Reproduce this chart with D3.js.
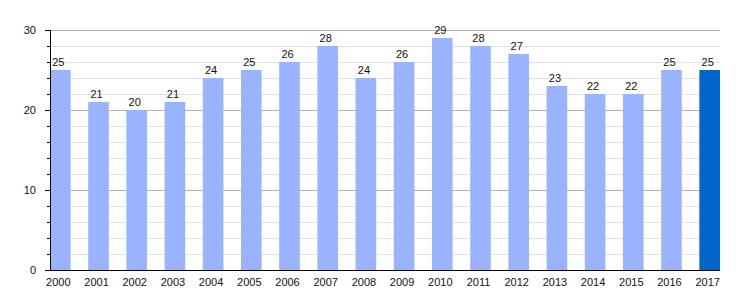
<!DOCTYPE html>
<html><head><meta charset="utf-8">
<script src="https://cdn.jsdelivr.net/npm/d3@7"></script>
<style>body{margin:0;background:#fff}svg{display:block}text{font-family:"Liberation Sans",Arial,sans-serif;font-size:11px;fill:#111}</style>
</head><body><svg id="c" width="750" height="300"></svg>
<script>
const years = ["2000","2001","2002","2003","2004","2005","2006","2007","2008","2009","2010","2011","2012","2013","2014","2015","2016","2017"];
const values = [25,21,20,21,24,25,26,28,24,26,29,28,27,23,22,22,25,25];
const majorTicks = [0,10,20,30];
const minorTicks = [2,4,6,8,12,14,16,18,22,24,26,28];

const svg = d3.select("#c");
const L = 50, R = 720, T = 30, B = 270;
const x = d3.scaleBand().domain(years).range([L, R]).paddingInner(0.46).paddingOuter(0);
const y = d3.scaleLinear().domain([0, 30]).range([B, T]);

// minor gridlines
svg.append("g").selectAll("line").data(minorTicks).join("line")
  .attr("x1", L).attr("x2", R).attr("y1", d => y(d) + 0.5).attr("y2", d => y(d) + 0.5)
  .attr("stroke", "#e2e2e2").attr("stroke-width", 1);
// major gridlines
svg.append("g").selectAll("line").data(majorTicks.filter(d => d > 0)).join("line")
  .attr("x1", L).attr("x2", R).attr("y1", d => y(d) + 0.5).attr("y2", d => y(d) + 0.5)
  .attr("stroke", "#b4b4b4").attr("stroke-width", 1);

// bars
svg.append("g").selectAll("rect").data(values).join("rect")
  .attr("x", (d, i) => x(years[i]))
  .attr("width", x.bandwidth())
  .attr("y", d => y(d))
  .attr("height", d => B - y(d))
  .attr("fill", (d, i) => i === years.length - 1 ? "#0066cc" : "#99b3ff");

// value labels
svg.append("g").selectAll("text").data(values).join("text")
  .attr("x", (d, i) => x(years[i]) + x.bandwidth() / 2 - 2)
  .attr("y", d => y(d) - 4.5)
  .attr("text-anchor", "middle")
  .text(d => d);

// y axis
const yAxis = d3.axisLeft(y).tickValues(majorTicks).tickSize(5).tickPadding(9).tickFormat(d3.format("d"));
const gy = svg.append("g").attr("transform", `translate(${L},0)`).call(yAxis);
gy.select(".domain").remove();
gy.selectAll("line").attr("stroke", "#000");
gy.selectAll("text").style("font-size", "11px").attr("fill", "#111");
const yMinor = d3.axisLeft(y).tickValues(minorTicks).tickSize(3).tickFormat("");
const gym = svg.append("g").attr("transform", `translate(${L},0)`).call(yMinor);
gym.select(".domain").remove();
gym.selectAll("line").attr("stroke", "#000");
svg.append("line").attr("x1", L + 0.5).attr("x2", L + 0.5).attr("y1", T).attr("y2", B).attr("stroke", "#000");

// x axis
const xAxis = d3.axisBottom(x).tickSize(0).tickPadding(8);
const gx = svg.append("g").attr("transform", `translate(0,${B})`).call(xAxis);
gx.select(".domain").remove();
gx.selectAll("text").attr("dx", -2).style("font-size", "11px").attr("fill", "#111");
svg.append("line").attr("x1", L).attr("x2", R).attr("y1", B + 0.5).attr("y2", B + 0.5).attr("stroke", "#000");
</script></body></html>
